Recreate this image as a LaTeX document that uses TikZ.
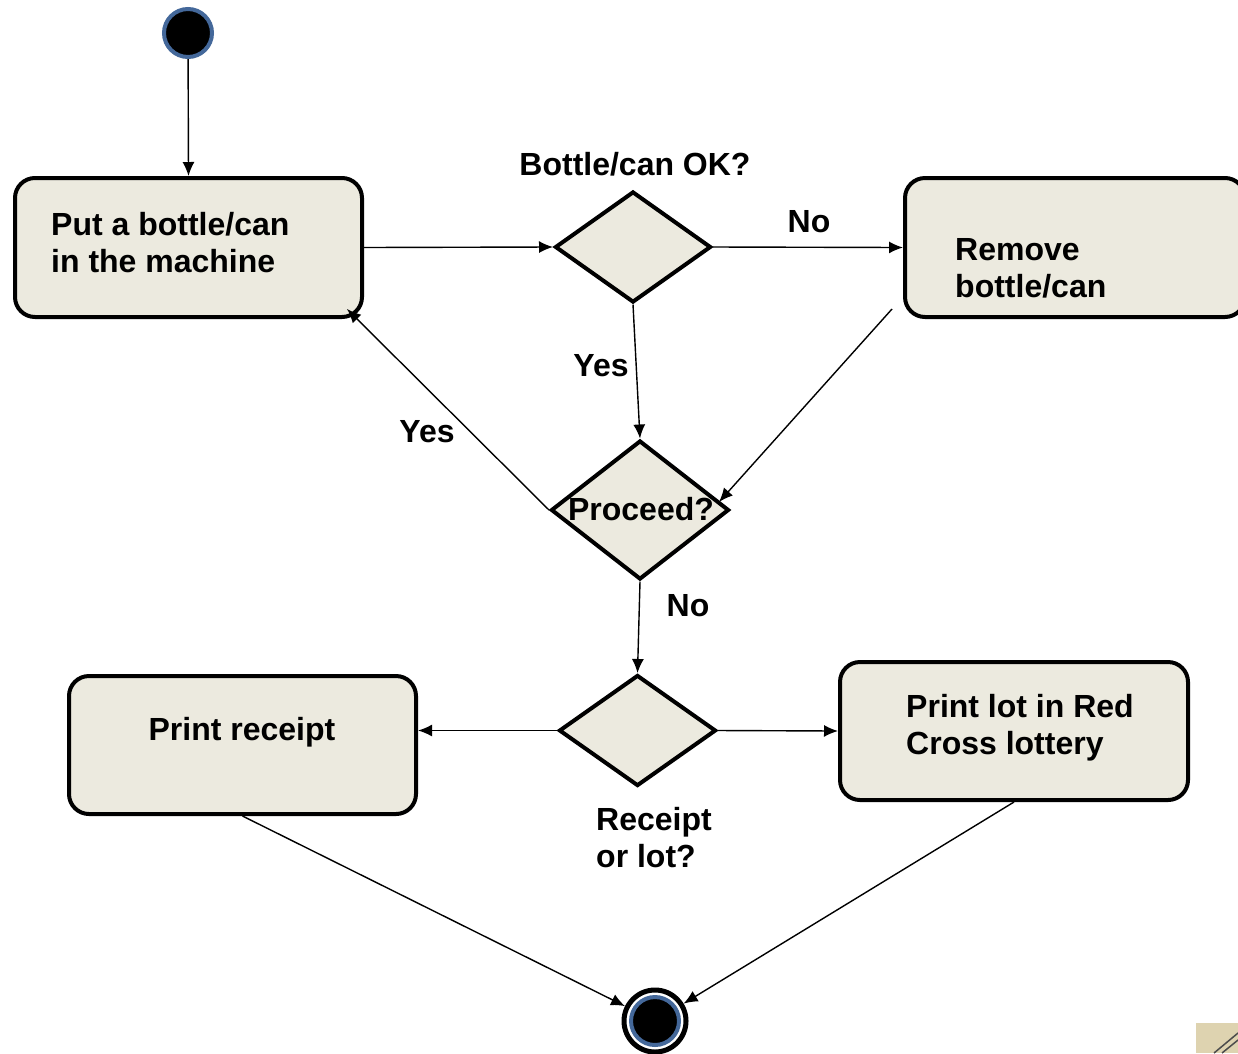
\documentclass[tikz,border=0pt]{standalone}
\usepackage{fontspec}
\setmainfont{Liberation Sans}
\usetikzlibrary{arrows.meta,shapes.geometric,calc}
\definecolor{boxfill}{RGB}{236,234,223}
\definecolor{ringblue}{RGB}{68,104,154}
\definecolor{cornerbeige}{RGB}{222,211,176}
\begin{document}
\begin{tikzpicture}[x=1pt,y=-1pt,
  every node/.style={font=\fontsize{32}{37}\selectfont\bfseries},
  actbox/.style={draw=black,line width=4pt,fill=boxfill,rounded corners=20pt,inner sep=0pt},
  decision/.style={diamond,draw=black,line width=4pt,fill=boxfill,inner sep=0pt},
  lbl/.style={inner sep=0pt},
  flow/.style={line width=1.4pt,-{Latex[length=14pt,width=12pt]}}]
\clip (0,0) rectangle (1238,1053);
\fill[white] (0,0) rectangle (1238,1053);
% corner fragment
\fill[cornerbeige] (1196,1023) rectangle (1238,1053);
\draw[black!70,line width=1.5pt] (1214,1053) -- (1238,1033);
\draw[black!70,line width=1.5pt] (1222,1053) -- (1238,1040);

% start
\node[circle,draw=ringblue,fill=black,line width=4pt,minimum size=48pt,inner sep=0pt] (start) at (188,33) {};

% boxes
\node[actbox,minimum width=347pt,minimum height=139pt] (b1) at (188.5,247.5) {};
\node[lbl,anchor=west,align=left] (t1) at (51,243) {Put a bottle/can\\in the machine};
\node[actbox,minimum width=340pt,minimum height=139pt] (b2) at (1075,247.5) {};
\node[lbl,anchor=west,align=left] (t2) at (955,268) {Remove\\bottle/can};
\node[actbox,minimum width=347pt,minimum height=138pt] (b3) at (242.5,745) {};
\node[lbl] (t3) at (242,732) {Print receipt};
\node[actbox,minimum width=348pt,minimum height=138pt] (b4) at (1014,731) {};
\node[lbl,anchor=west,align=left] (t4) at (906,728) {Print lot in Red\\Cross lottery};

% decisions
\node[decision,minimum width=156pt,minimum height=111pt] (d1) at (633,247) {};
\node[decision,minimum width=178pt,minimum height=139pt] (d2) at (640,510) {};
\node[decision,minimum width=157pt,minimum height=111pt] (d3) at (637.5,730.5) {};
\node[lbl] (t5) at (641,509) {Proceed?};

% end
\node[circle,draw=black,fill=white,line width=5pt,minimum size=62pt,inner sep=0pt] (end) at (655,1021) {};
\node[circle,draw=ringblue,fill=black,line width=4pt,minimum size=48pt,inner sep=0pt] (endin) at (655,1021) {};

% labels
\node[lbl] (l1) at (635,164) {Bottle/can OK?};
\node[lbl] (l2) at (809,222) {No};
\node[lbl] (l3) at (601,366) {Yes};
\node[lbl] (l4) at (427,432) {Yes};
\node[lbl] (l5) at (688,606) {No};
\node[lbl,anchor=west,align=left] (l6) at (596,838) {Receipt\\or lot?};

% connectors
\coordinate (c1) at (892,309);
\coordinate (c2) at (719,502);
\coordinate (c3) at (347,309);
\draw[flow] (start) -- (b1.north);
\draw[flow] (b1.east) -- (d1.west);
\draw[flow] (d1.east) -- (b2.west);
\draw[flow] (d1.south) -- (d2.north);
\draw[flow] (c1) -- (c2);
\draw[flow] (d2.west) -- (c3);
\draw[flow] (d2.south) -- (d3.north);
\draw[flow] (d3.west) -- (b3.east |- d3.west);
\draw[flow] (d3.east) -- (b4.west);
\draw[flow] (b3.south) -- (end);
\draw[flow] (b4.south) -- (end);
\end{tikzpicture}
\end{document}
